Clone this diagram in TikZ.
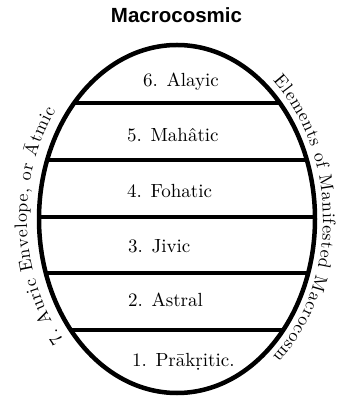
\documentclass[tikz,border=0pt]{standalone}
\usepackage{fontspec}
\setmainfont{lmroman10-regular.otf}
\newfontfamily\titlefont{Liberation Sans}
\usetikzlibrary{decorations.text}
\tikzset{
  egg/.style={line width=4.5pt},
  divider/.style={line width=3.6pt},
  layer/.style={anchor=base west, inner sep=0pt, font=\fontsize{19}{21}\selectfont},
}
\begin{document}
\begin{tikzpicture}[x=1pt,y=1pt]
\useasboundingbox (0,0) rectangle (339,396);
% title
\node[anchor=base, inner sep=0pt, font=\titlefont\bfseries\fontsize{20.5}{23}\selectfont] (title) at (176.5,373) {Macrocosmic};
% dividers clipped to the egg
\begin{scope}
  \clip (177,177) ellipse [x radius=138, y radius=174];
  \foreach \yy in {293,236,179,123,66} \draw[divider] (0,\yy) -- (339,\yy);
\end{scope}
\draw[egg] (177,177) ellipse [x radius=138, y radius=174];
% layer labels
\node[layer] (l6) at (143,309) {6.\hspace{0.45em}Alayic};
\node[layer] (l5) at (127,254) {5.\hspace{0.45em}Mah\^atic};
\node[layer] (l4) at (127,198) {4.\hspace{0.45em}Fohatic};
\node[layer] (l3) at (128,143) {3.\hspace{0.45em}Jivic};
\node[layer] (l2) at (128,89) {2.\hspace{0.45em}Astral};
\node[layer] (l1) at (132,29) {1.\hspace{0.45em}Pr\=ak\d{r}itic.};
% curved labels
\path[decorate, decoration={text along path, text align=fit to path,
  text={|\fontsize{18}{20}\selectfont|7. Auric Envelope, or Ātmic}}]
  (177,177) ++(221:150 and 185) arc [start angle=221, end angle=144, x radius=150, y radius=185];
\path[decorate, decoration={text along path, text align=fit to path,
  text={|\fontsize{18}{20}\selectfont|Elements of Manifested Macrocosm}}]
  (177,177) ++(49:146 and 183) arc [start angle=49, end angle=-49, x radius=146, y radius=183];
\end{tikzpicture}
\end{document}
